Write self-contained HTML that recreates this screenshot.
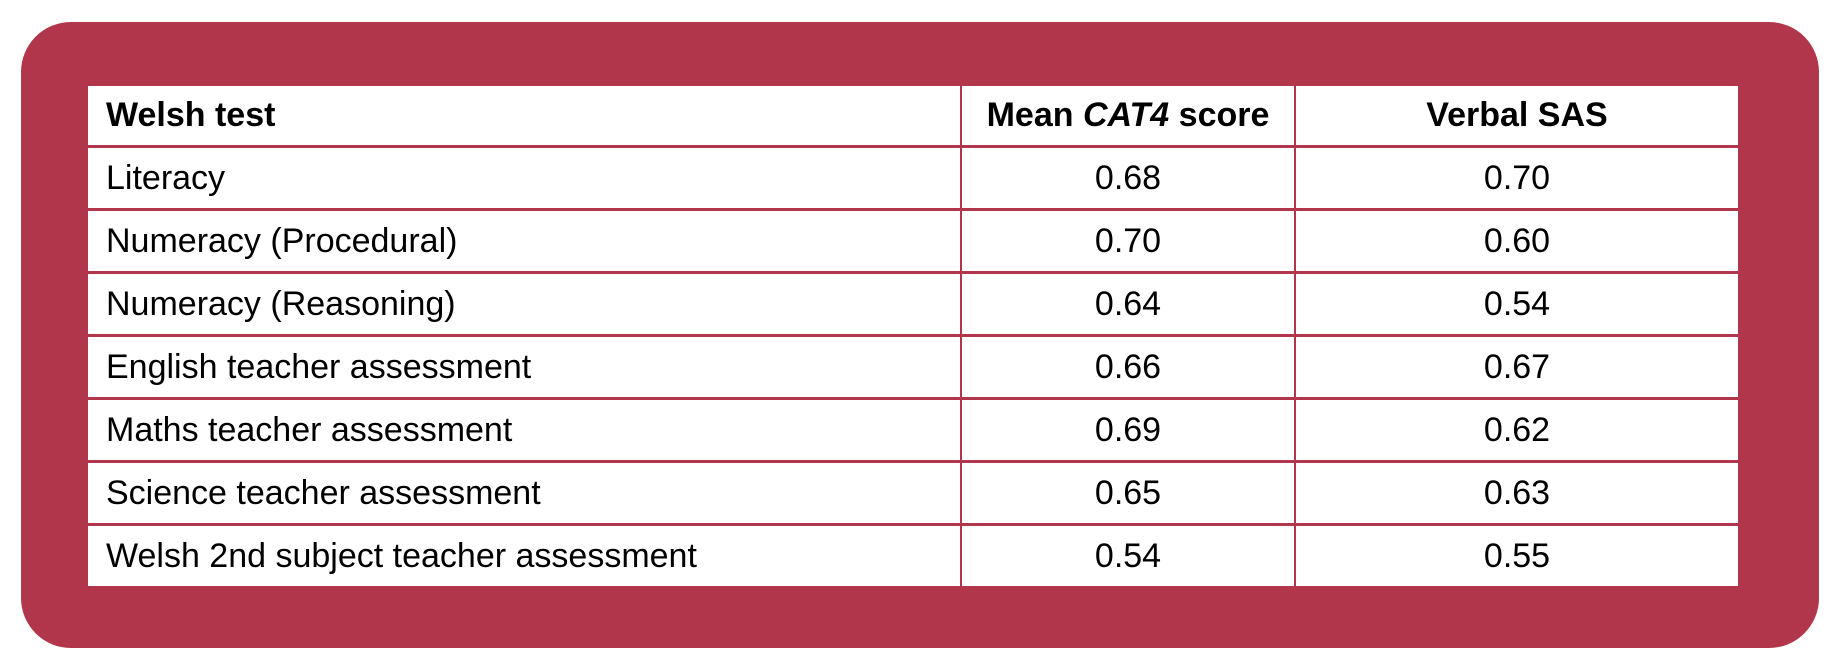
<!DOCTYPE html>
<html><head><meta charset="utf-8"><style>
html,body{margin:0;padding:0;background:#fff;}
body{width:1840px;height:668px;position:relative;overflow:hidden;font-family:"Liberation Sans",sans-serif;}
.box{position:absolute;left:21px;top:22px;width:1798px;height:626px;background:#b2364b;border-radius:50px;}
table{position:absolute;left:88px;top:86px;width:1650px;border-collapse:collapse;background:#fff;}
td,th{height:60px;padding:0 18px;font-size:34px;color:#000;border-bottom:3px solid #b2364b;border-left:2px solid #b2364b;}
th{font-weight:bold;height:59px;}
tr td:first-child,tr th:first-child{border-left:none;text-align:left;width:836px;}
td.n,th.n{text-align:center;}
tr:last-child td{border-bottom:none;}
</style></head><body>
<div class="box"></div>
<table>
<tr><th>Welsh test</th><th class="n" style="width:296px">Mean <i>CAT4</i> score</th><th class="n">Verbal SAS</th></tr>
<tr><td>Literacy</td><td class="n">0.68</td><td class="n">0.70</td></tr>
<tr><td>Numeracy (Procedural)</td><td class="n">0.70</td><td class="n">0.60</td></tr>
<tr><td>Numeracy (Reasoning)</td><td class="n">0.64</td><td class="n">0.54</td></tr>
<tr><td>English teacher assessment</td><td class="n">0.66</td><td class="n">0.67</td></tr>
<tr><td>Maths teacher assessment</td><td class="n">0.69</td><td class="n">0.62</td></tr>
<tr><td>Science teacher assessment</td><td class="n">0.65</td><td class="n">0.63</td></tr>
<tr><td>Welsh 2nd subject teacher assessment</td><td class="n">0.54</td><td class="n">0.55</td></tr>
</table>
</body></html>
